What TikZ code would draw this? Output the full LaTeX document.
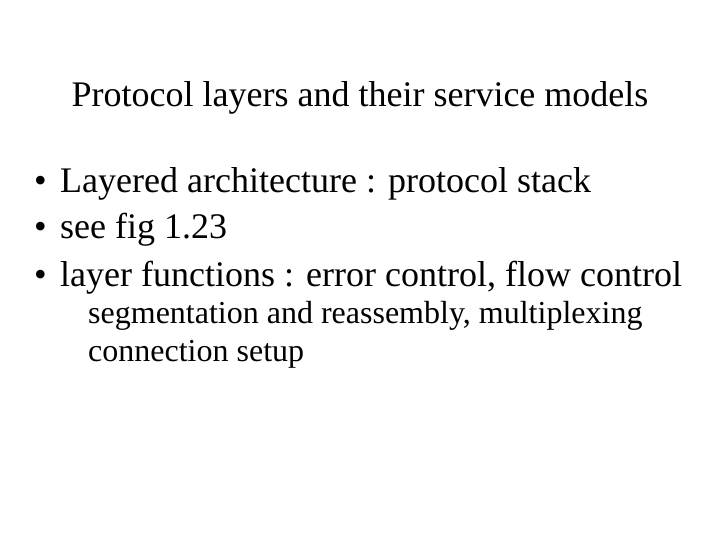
\documentclass[tikz,border=0pt]{standalone}
\usepackage{fontspec}
\setmainfont{Liberation Serif}
\begin{document}
\begin{tikzpicture}[x=1pt,y=-1pt,txt/.style={anchor=base west,inner sep=0pt,font=\fontsize{36}{38}\selectfont},sub/.style={anchor=base west,inner sep=0pt,font=\fontsize{32}{34}\selectfont}]
\useasboundingbox[fill=white] (0,0) rectangle (720,540);
\node[anchor=base,inner sep=0pt,font=\fontsize{36}{38}\selectfont] (title) at (360,107) {Protocol layers and their service models};
\node[txt] (b1) at (34,193) {•};
\node[txt] (l1) at (60,193) {Layered architecture : protocol stack};
\node[txt] (b2) at (34,239) {•};
\node[txt] (l2) at (60,239) {see fig 1.23};
\node[txt] (b3) at (34,286) {•};
\node[txt] (l3) at (60,286) {layer functions : error control, flow control};
\node[sub] (l4) at (88,323) {segmentation and reassembly, multiplexing};
\node[sub] (l5) at (88,361) {connection setup};
\end{tikzpicture}
\end{document}
